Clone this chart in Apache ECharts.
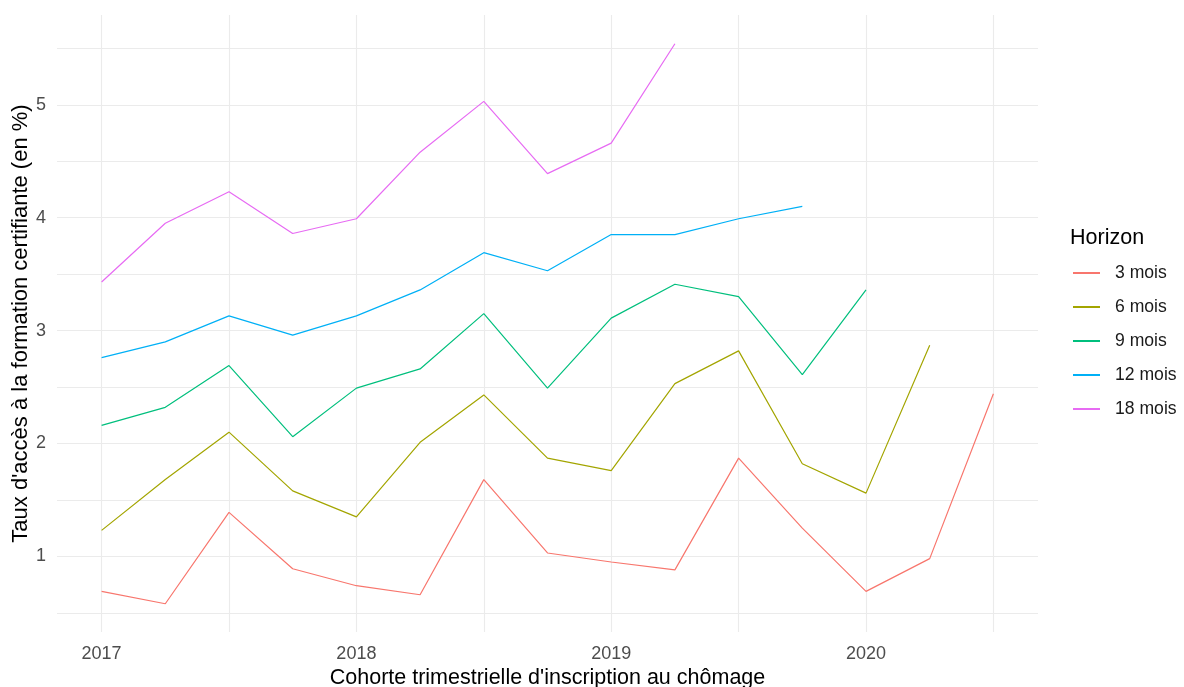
<!DOCTYPE html>
<html lang="fr">
<head>
    <meta charset="UTF-8">
    <title>Taux d'accès à la formation certifiante</title>
    <style>
        html, body { margin: 0; padding: 0; background: #fff; }
        #container { width: 1184px; height: 687px; }
    </style>
</head>
<body>
<div id="container"></div>
<script src="https://cdn.jsdelivr.net/npm/echarts@6/dist/echarts.min.js"></script>
<script>
    // cohortes trimestrielles
    var quarters = ['2017-T1','2017-T2','2017-T3','2017-T4',
                    '2018-T1','2018-T2','2018-T3','2018-T4',
                    '2019-T1','2019-T2','2019-T3','2019-T4',
                    '2020-T1','2020-T2','2020-T3'];
    var horizons = ['3 mois', '6 mois', '9 mois', '12 mois', '18 mois'];
    var colors = ['#F8766D', '#A3A500', '#00BF7D', '#00B0F6', '#E76BF3'];

    var mois3  = [0.69, 0.58, 1.39, 0.89, 0.74, 0.66, 1.68, 1.03, 0.95, 0.88, 1.87, 1.25, 0.69, 0.98, 2.44];
    var mois6  = [1.23, 1.68, 2.10, 1.58, 1.35, 2.01, 2.43, 1.87, 1.76, 2.53, 2.82, 1.82, 1.56, 2.87];
    var mois9  = [2.16, 2.32, 2.69, 2.06, 2.49, 2.66, 3.15, 2.49, 3.11, 3.41, 3.30, 2.61, 3.36];
    var mois12 = [2.76, 2.90, 3.13, 2.96, 3.13, 3.36, 3.69, 3.53, 3.85, 3.85, 3.99, 4.10];
    var mois18 = [3.43, 3.95, 4.23, 3.86, 3.99, 4.58, 5.03, 4.39, 4.66, 5.54];

    var xTicks = [2016.5, 2017, 2017.5, 2018, 2018.5, 2019, 2019.5, 2020, 2020.5];
    var xLabels = [2017, 2018, 2019, 2020];
    var yTicks = [0.5, 1, 1.5, 2, 2.5, 3, 3.5, 4, 4.5, 5, 5.5];
    var yLabels = [1, 2, 3, 4, 5];

    // trimestre -> annee decimale
    function toYear(q) {
        var p = q.split('-T');
        return +p[0] + (+p[1] - 1) / 4;
    }
    function pairs(vals) {
        return vals.map(function (v, i) { return [toYear(quarters[i]), v]; });
    }

    var allSeries = [mois3, mois6, mois9, mois12, mois18];
    var FONT = '"Liberation Sans", Arial, sans-serif';

    var myChart = echarts.init(document.getElementById('container'));
    var option = {
        animation: false,
        color: colors,
        textStyle: { fontFamily: FONT },
        title: {
            text: 'Horizon',
            left: 1070,
            top: 227,
            padding: 0,
            textStyle: { fontSize: 21.5, fontWeight: 'normal', color: '#000', fontFamily: FONT }
        },
        legend: {
            orient: 'vertical',
            left: 1073,
            top: 263,
            padding: 0,
            itemWidth: 27,
            itemHeight: 2,
            itemGap: 14,
            icon: 'rect',
            data: horizons,
            textStyle: { fontSize: 17.6, color: '#1a1a1a', lineHeight: 20, padding: [0, 0, 0, 10], fontFamily: FONT }
        },
        grid: { left: 57, right: 146, top: 15, bottom: 55, containLabel: false, outerBoundsMode: 'none' },
        xAxis: {
            type: 'value',
            min: 2016.825,
            max: 2020.675,
            name: "Cohorte trimestrielle d'inscription au chômage",
            nameLocation: 'middle',
            nameGap: 35,
            nameMoveOverlap: false,
            nameTextStyle: { fontSize: 21.5, color: '#000', fontFamily: FONT },
            axisLine: { show: false },
            axisTick: { show: false, customValues: xTicks },
            axisLabel: {
                customValues: xLabels,
                fontSize: 18,
                color: '#4D4D4D',
                margin: 13,
                formatter: function (v) { return String(v); }
            },
            splitLine: { show: true, lineStyle: { color: '#EBEBEB', width: 1.1 } }
        },
        yAxis: {
            type: 'value',
            min: 0.33,
            max: 5.795,
            name: "Taux d'accès à la formation certifiante (en %)",
            nameLocation: 'middle',
            nameGap: 25,
            nameMoveOverlap: false,
            nameTextStyle: { fontSize: 22, color: '#000', fontFamily: FONT },
            axisLine: { show: false },
            axisTick: { show: false, customValues: yTicks },
            axisLabel: {
                customValues: yLabels,
                fontSize: 18,
                color: '#4D4D4D',
                margin: 11,
                formatter: function (v) { return String(v); }
            },
            splitLine: { show: true, lineStyle: { color: '#EBEBEB', width: 1.1 } }
        },
        series: allSeries.map(function (vals, k) {
            return {
                name: horizons[k],
                type: 'line',
                data: pairs(vals),
                symbol: 'none',
                lineStyle: { width: 1.2, color: colors[k] },
                itemStyle: { color: colors[k] }
            };
        })
    };

    if (option && typeof option === "object") {
        myChart.setOption(option, true);
    }
</script>
</body>
</html>
